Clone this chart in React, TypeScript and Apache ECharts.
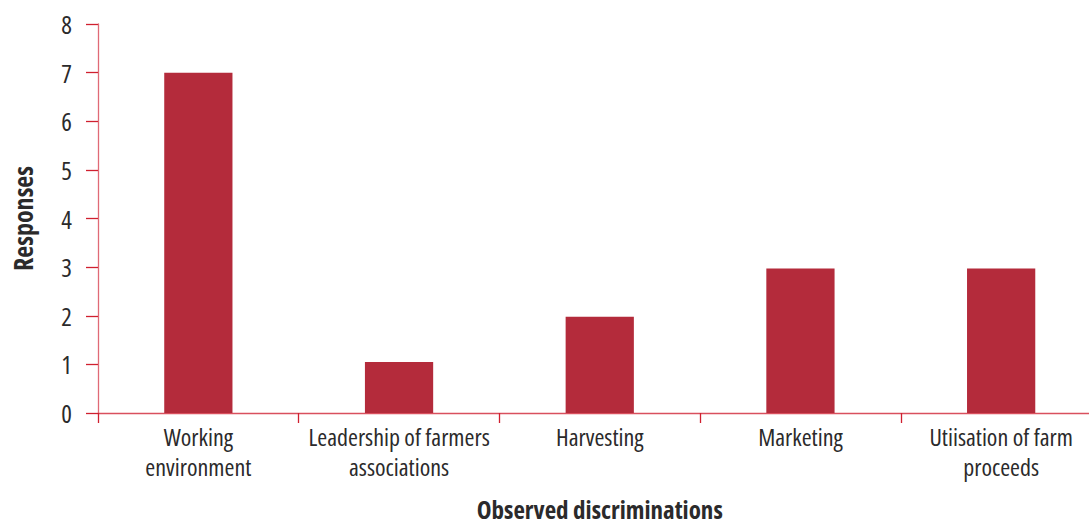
import React, { useEffect, useRef } from "react";
import * as echarts from "echarts";

const categories: string[] = [
  "Working\nenvironment",
  "Leadership of farmers\nassociations",
  "Harvesting",
  "Marketing",
  "Utiisation of farm\nproceeds",
];
const responses: number[] = [7, 1.05, 1.98, 2.97, 2.97];
const yTicks = { min: 0, max: 8, interval: 1 };
const xTitle = "Observed discriminations";
const yTitle = "Responses";

const FONT = "'Open Sans', sans-serif";
const TEXT = "#2b2a2b";

export default function App() {
  const ref = useRef<HTMLDivElement>(null);
  useEffect(() => {
    if (!ref.current) return;
    const chart = echarts.init(ref.current, undefined, { renderer: "svg" });
    chart.setOption({
      animation: false,
      grid: {
        left: 98,
        top: 24,
        bottom: 108,
        right: -12.5,
        containLabel: false,
        outerBoundsMode: "none",
      },
      xAxis: {
        type: "category",
        data: categories,
        name: xTitle,
        nameLocation: "middle",
        nameGap: 85,
        nameTextStyle: {
          fontFamily: FONT,
          fontSize: 25,
          lineHeight: 22,
          fontWeight: "bold",
          color: TEXT,
        },
        axisLine: { lineStyle: { color: "#d9505e", width: 1.3 } },
        axisTick: { show: true, length: 10, lineStyle: { color: "#d0202f", width: 1.3 } },
        axisLabel: {
          interval: 0,
          margin: 8,
          fontFamily: FONT,
          fontSize: 24,
          lineHeight: 30,
          color: TEXT,
        },
      },
      yAxis: {
        type: "value",
        min: yTicks.min,
        max: yTicks.max,
        interval: yTicks.interval,
        name: yTitle,
        nameLocation: "middle",
        nameGap: 64,
        nameTextStyle: {
          fontFamily: FONT,
          fontSize: 26,
          lineHeight: 22,
          fontWeight: "bold",
          color: TEXT,
        },
        splitLine: { show: false },
        axisLine: { show: true, lineStyle: { color: "#e06a76", width: 1.3 } },
        axisTick: { show: true, length: 12, lineStyle: { color: "#d0202f", width: 1.3 } },
        axisLabel: { margin: 26, fontFamily: FONT, fontSize: 25, color: TEXT },
      },
      series: [
        {
          type: "bar",
          data: responses,
          barWidth: "34%",
          itemStyle: { color: "#b42b3b" },
        },
      ],
    });
    return () => chart.dispose();
  }, []);
  return (
    <>
      <style>{"#root svg text { font-stretch: 75% !important; }"}</style>
      <div
        ref={ref}
        style={{ position: "absolute", left: 0, top: 0, width: 1089, height: 521, background: "#fff" }}
      />
    </>
  );
}
